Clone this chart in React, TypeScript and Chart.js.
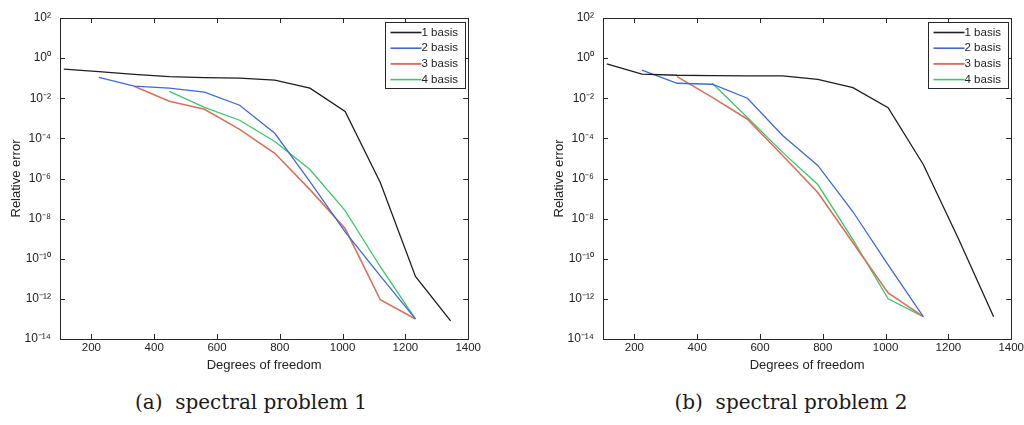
import React, { useEffect, useRef } from "react";
import { Chart, registerables } from "chart.js";

Chart.register(...registerables);

// ---------- tick labels / legend ----------
const xTickValues = [200, 400, 600, 800, 1000, 1200, 1400];
const yTickExponents = [2, 0, -2, -4, -6, -8, -10, -12, -14];
const seriesLabels = ["1 basis", "2 basis", "3 basis", "4 basis"];
const seriesColors = ["#1e1e1e", "#4169d4", "#d6735d", "#40c46c"];
const captions = ["(a)\u00a0\u00a0spectral problem 1", "(b)\u00a0\u00a0spectral problem 2"];

// ---------- spectral problem 1 ----------
const p1Dof1 = [112, 224, 336, 448, 560, 672, 784, 896, 1008, 1120, 1232, 1344];
const p1Err1 = [2.8e-1, 2.1e-1, 1.55e-1, 1.2e-1, 1.07e-1, 1.0e-1, 8e-2, 3.2e-2, 2.2e-3, 6.3e-7, 1.3e-11, 8e-14];
const p1Dof2 = [224, 336, 448, 560, 672, 784, 896, 1008, 1120, 1232];
const p1Err2 = [1.1e-1, 4e-2, 3.2e-2, 2e-2, 4.5e-3, 1.8e-4, 7e-7, 2.2e-9, 1.4e-11, 1e-13];
const p1Dof3 = [336, 448, 560, 672, 784, 896, 1008, 1120, 1232];
const p1Err3 = [4e-2, 7e-3, 2.8e-3, 2.8e-4, 1.8e-5, 2.8e-7, 3.2e-9, 9e-13, 1e-13];
const p1Dof4 = [448, 560, 672, 784, 896, 1008, 1120, 1232];
const p1Err4 = [2.2e-2, 3.5e-3, 8e-4, 7e-5, 2.8e-6, 2.5e-8, 4e-11, 1e-13];

// ---------- spectral problem 2 ----------
const p2Dof1 = [112, 224, 336, 448, 560, 672, 784, 896, 1008, 1120, 1232, 1344];
const p2Err1 = [5.2e-1, 1.6e-1, 1.4e-1, 1.35e-1, 1.3e-1, 1.3e-1, 8.7e-2, 3.4e-2, 3.4e-3, 5e-6, 1e-9, 1.3e-13];
const p2Dof2 = [224, 336, 448, 560, 672, 784, 896, 1008, 1120];
const p2Err2 = [2.5e-1, 5.6e-2, 5e-2, 1e-2, 1.4e-4, 4.5e-6, 2.2e-8, 5e-11, 1.3e-13];
const p2Dof3 = [336, 448, 560, 672, 784, 896, 1008, 1120];
const p2Err3 = [1.2e-1, 1.1e-2, 9e-4, 1.4e-5, 2e-7, 6.3e-10, 2e-12, 1.3e-13];
const p2Dof4 = [448, 560, 672, 784, 896, 1008, 1120];
const p2Err4 = [5.6e-2, 1.1e-3, 2e-5, 5e-7, 9e-10, 1e-12, 1.3e-13];

const problem1 = [
  [p1Dof1, p1Err1],
  [p1Dof2, p1Err2],
  [p1Dof3, p1Err3],
  [p1Dof4, p1Err4],
];
const problem2 = [
  [p2Dof1, p2Err1],
  [p2Dof2, p2Err2],
  [p2Dof3, p2Err3],
  [p2Dof4, p2Err4],
];

const SUP: Record<string, string> = {
  "-": "\u207b", "0": "\u2070", "1": "\u00b9", "2": "\u00b2", "3": "\u00b3",
  "4": "\u2074", "5": "\u2075", "6": "\u2076", "7": "\u2077", "8": "\u2078", "9": "\u2079",
};
const powerLabel = (e: number) => "10" + String(e).split("").map((c) => SUP[c] || c).join("");

const FONT = "'Liberation Sans', Arial, sans-serif";
const INK = "#222222";

const framePlugin = {
  id: "matlabFrame",
  afterDraw(chart: any) {
    const { ctx, chartArea: a, scales } = chart;
    const xs = scales.x;
    const ys = scales.y;
    ctx.save();
    ctx.strokeStyle = "#262626";
    ctx.lineWidth = 1;
    ctx.strokeRect(Math.round(a.left) + 0.5, Math.round(a.top) + 0.5, Math.round(a.right - a.left), Math.round(a.bottom - a.top));
    const L = 5;
    ctx.beginPath();
    for (const v of xTickValues) {
      const px = Math.round(xs.getPixelForValue(v)) + 0.5;
      ctx.moveTo(px, a.bottom);
      ctx.lineTo(px, a.bottom - L);
      ctx.moveTo(px, a.top);
      ctx.lineTo(px, a.top + L);
    }
    for (const e of yTickExponents) {
      const py = Math.round(ys.getPixelForValue(Math.pow(10, e))) + 0.5;
      ctx.moveTo(a.left, py);
      ctx.lineTo(a.left + L, py);
      ctx.moveTo(a.right, py);
      ctx.lineTo(a.right - L, py);
    }
    ctx.stroke();

    // legend box (top-right, inside the axes)
    const bw = 80;
    const bh = 66;
    const bx = Math.round(a.right - 3 - bw) + 0.5;
    const by = Math.round(a.top + 4) + 0.5;
    ctx.fillStyle = "#ffffff";
    ctx.fillRect(bx, by, bw, bh);
    ctx.strokeStyle = "#262626";
    ctx.strokeRect(bx, by, bw, bh);
    ctx.font = `11.5px ${FONT}`;
    ctx.textBaseline = "middle";
    ctx.textAlign = "left";
    chart.data.datasets.forEach((ds: any, i: number) => {
      const ry = by + 10 + i * 15.7;
      ctx.strokeStyle = ds.borderColor;
      ctx.lineWidth = ds.borderWidth + 0.3;
      ctx.beginPath();
      ctx.moveTo(bx + 5, ry);
      ctx.lineTo(bx + 36, ry);
      ctx.stroke();
      ctx.fillStyle = INK;
      ctx.fillText(ds.label, bx + 36, ry);
    });
    ctx.restore();
  },
};

function ErrorChart({ series, left }: { series: any[]; left: number }) {
  const ref = useRef<HTMLCanvasElement | null>(null);
  useEffect(() => {
    if (!ref.current) return;
    const datasets = series.map(([xs, ys]: any, i: number) => ({
      label: seriesLabels[i],
      data: xs.map((x: number, j: number) => ({ x, y: ys[j] })),
      borderColor: seriesColors[i],
      backgroundColor: seriesColors[i],
      borderWidth: i === 2 ? 1.6 : 1.3,
      pointRadius: 0,
      tension: 0,
      fill: false,
    }));
    const chart = new Chart(ref.current, {
      type: "line",
      data: { datasets },
      plugins: [framePlugin],
      options: {
        animation: false,
        responsive: false,
        events: [],
        layout: { padding: { left: 0, top: 18, right: 14, bottom: 0 } },
        plugins: { legend: { display: false }, tooltip: { enabled: false } },
        scales: {
          x: {
            type: "linear",
            min: 100,
            max: 1400,
            afterBuildTicks: (s: any) => {
              s.ticks = xTickValues.map((v) => ({ value: v }));
            },
            afterFit: (s: any) => {
              s.height = 46;
            },
            grid: { display: false, drawTicks: false },
            border: { display: false },
            ticks: {
              color: INK,
              font: { family: FONT, size: 11.5 },
              padding: 2,
              maxRotation: 0,
              autoSkip: false,
              callback: (v: any) => String(v),
            },
            title: {
              display: true,
              text: "Degrees of freedom",
              color: INK,
              font: { family: FONT, size: 13 },
              padding: { top: 0, bottom: 12 },
            },
          },
          y: {
            type: "logarithmic",
            min: 1e-14,
            max: 1e2,
            afterBuildTicks: (s: any) => {
              s.ticks = yTickExponents.map((e) => ({ value: Math.pow(10, e) }));
            },
            afterFit: (s: any) => {
              s.width = 60;
            },
            grid: { display: false, drawTicks: false },
            border: { display: false },
            ticks: {
              color: INK,
              font: { family: FONT, size: 12 },
              padding: 9,
              autoSkip: false,
              callback: (v: any) => powerLabel(Math.round(Math.log10(Number(v)))),
            },
            title: {
              display: true,
              text: "Relative error",
              color: INK,
              font: { family: FONT, size: 13 },
              padding: { top: 9, bottom: 0 },
            },
          },
        },
      } as any,
    });
    return () => chart.destroy();
  }, []);
  return (
    <canvas
      ref={ref}
      width={483}
      height={385}
      style={{ position: "absolute", left, top: 0, width: 483, height: 385 }}
    />
  );
}

export default function App() {
  const captionStyle = (center: number): React.CSSProperties => ({
    position: "absolute",
    left: center - 160,
    width: 320,
    top: 390,
    textAlign: "center",
    fontFamily: "'DejaVu Serif', 'Liberation Serif', serif",
    fontSize: 20,
    lineHeight: "24px",
    color: "#1a1a1a",
    whiteSpace: "pre",
  });
  return (
    <div
      style={{
        position: "absolute",
        left: 0,
        top: 0,
        width: 1024,
        height: 425,
        overflow: "hidden",
        background: "#ffffff",
      }}
    >
      <ErrorChart series={problem1} left={0} />
      <ErrorChart series={problem2} left={543} />
      <div style={captionStyle(251)}>{captions[0]}</div>
      <div style={captionStyle(791)}>{captions[1]}</div>
    </div>
  );
}
